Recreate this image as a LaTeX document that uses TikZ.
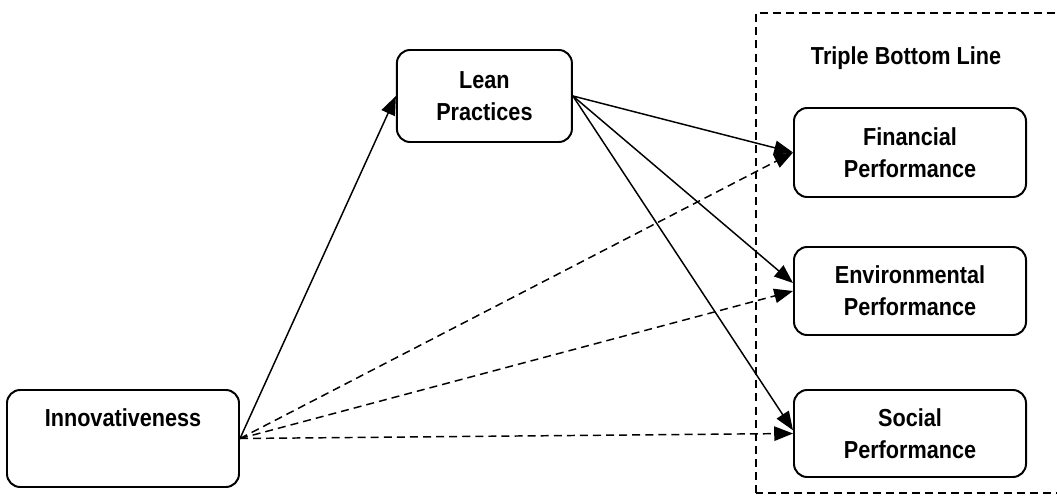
\documentclass[tikz,border=0pt]{standalone}
\usepackage{fontspec}
\setmainfont[FakeStretch=0.88]{Liberation Sans}
\usetikzlibrary{arrows.meta,positioning}
\tikzset{
  construct/.style={draw, line width=1.4pt, rounded corners=0.33cm, fill=white, align=center, font=\bfseries\fontsize{17.5}{22.7}\selectfont, inner sep=0pt},
  flow/.style={-{Triangle[length=0.47cm, width=0.36cm]}, line width=1.05pt},
  dashflow/.style={-{Triangle[length=0.47cm, width=0.36cm]}, line width=1.05pt, dash pattern=on 5.7pt off 3.6pt},
  group/.style={draw, line width=1pt, dash pattern=on 5.7pt off 3.6pt}
}
\begin{document}
\begin{tikzpicture}[x=1cm,y=1cm]
  \useasboundingbox (0,0) rectangle (26.425,12.375);
  \begin{scope}
    \clip (0,0) rectangle (26.425,12.375);
    \draw[group] (18.9,0.05) rectangle (26.6,12.05);
  \end{scope}
  \node[font=\bfseries\fontsize{17.5}{22.7}\selectfont] (tbl) at (22.65,10.925) {Triple Bottom Line};

  \node[construct, minimum width=4.375cm, minimum height=2.3cm] (lean) at (12.11,9.975) {Lean\\Practices};
  \node[construct, minimum width=5.8cm, minimum height=2.425cm] (inno) at (3.075,1.4125) {Innovativeness\\\strut};
  \node[construct, minimum width=5.8cm, minimum height=2.225cm] (fin) at (22.75,8.5625) {Financial\\Performance};
  \node[construct, minimum width=5.8cm, minimum height=2.2cm] (env) at (22.75,5.1) {Environmental\\Performance};
  \node[construct, minimum width=5.8cm, minimum height=2.175cm] (soc) at (22.75,1.5375) {Social\\Performance};

  \draw[flow] (inno.east) -- (lean.west);
  \draw[flow] (lean.east) -- (fin.west);
  \draw[flow] (lean.east) -- ([yshift=0.2cm]env.west);
  \draw[flow] (lean.east) -- ([yshift=0.08cm]soc.west);

  \draw[dashflow] (inno.east) -- (fin.west);
  \draw[dashflow] (inno.east) -- (env.west);
  \draw[dashflow] (inno.east) -- (soc.west);
\end{tikzpicture}
\end{document}
